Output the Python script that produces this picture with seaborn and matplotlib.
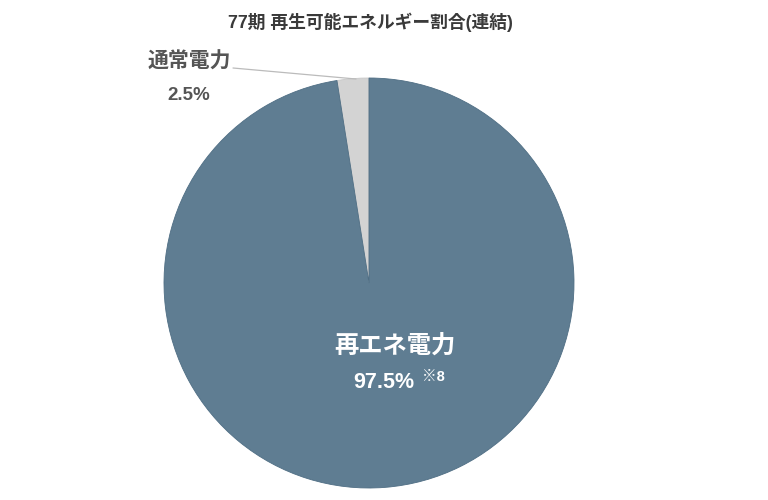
import matplotlib
matplotlib.use("Agg")
import matplotlib.pyplot as plt
import seaborn as sns

title = "77期 再生可能エネルギー割合(連結)"
categories = ["通常電力", "再エネ電力"]
values = [2.5, 97.5]
pct_labels = ["2.5%", "97.5%"]
note = "※8"
colors = ["#d3d3d3", "#5f7d92"]

sns.set_theme(style="white")
plt.rcParams['font.family'] = ['Liberation Sans', 'Noto Sans CJK JP', 'DejaVu Sans']

W, H = 768, 500
fig = plt.figure(figsize=(W / 100, H / 100), dpi=100)
cx, cy, r = 369, 283, 205
ax = fig.add_axes([(cx - r) / W, 1 - (cy + r) / H, 2 * r / W, 2 * r / H])
wedges, _ = ax.pie(values, colors=colors, startangle=90, counterclock=True,
                   radius=1.0, wedgeprops=dict(linewidth=0.6, edgecolor="#4f6e84"))
wedges[0].set_edgecolor("#c8c8c8")
ax.set_xlim(-1, 1)
ax.set_ylim(-1, 1)
ax.set_aspect("equal")
ax.axis("off")

def px(x, y):
    return x / W, 1 - y / H

fig.text(*px(370, 22), title, ha="center", va="center", fontsize=12.8,
         fontweight="bold", color="#3a3a3a")

# small slice label
fig.text(*px(189, 62), categories[0], ha="center", va="center", fontsize=15,
         fontweight="bold", color="#555555")
fig.text(*px(189, 95), pct_labels[0], ha="center", va="center", fontsize=13.5,
         fontweight="bold", color="#555555")
fig.add_artist(plt.Line2D([233 / W, 356 / W], [1 - 68 / H, 1 - 79 / H],
                          color="#bbbbbb", linewidth=0.9))

# big slice label
fig.text(*px(395, 346), categories[1], ha="center", va="center", fontsize=17.5,
         fontweight="bold", color="white")
fig.text(*px(384, 383), pct_labels[1], ha="center", va="center", fontsize=15.5,
         fontweight="bold", color="white")
fig.text(*px(433, 377), note, ha="center", va="center", fontsize=10.5,
         fontweight="bold", color="white")

fig.savefig("out.png", dpi=100)
